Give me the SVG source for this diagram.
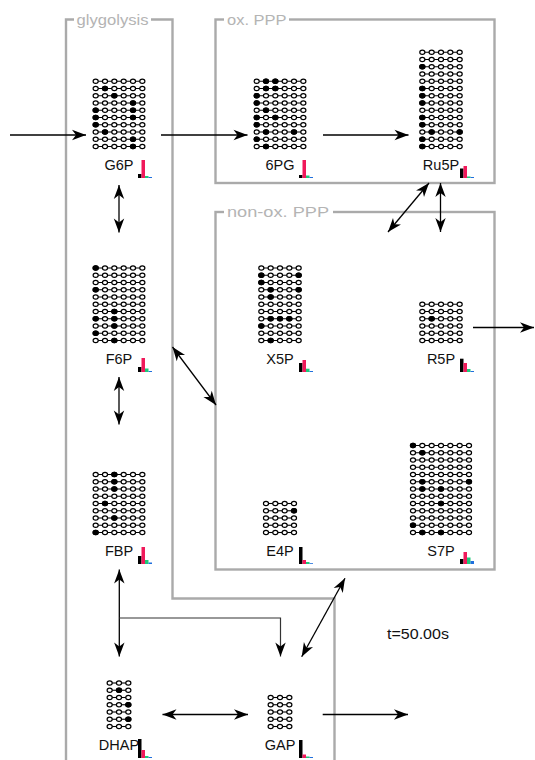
<svg xmlns="http://www.w3.org/2000/svg" xmlns:xlink="http://www.w3.org/1999/xlink" width="535" height="760" viewBox="0 0 535 760">
<style>
.box{fill:none;stroke:#aaaaaa;stroke-width:2.4}
.ttl{font-family:"Liberation Sans",Arial,sans-serif;font-size:15px;fill:#b4b4b4}
.lbl{font-family:"Liberation Sans",Arial,sans-serif;font-size:14.5px;fill:#111;text-anchor:middle}
.oc{fill:#fff;stroke:#000;stroke-width:1.2}
.fc{fill:#000;stroke:#000;stroke-width:1.2}
.rl{stroke:#000;stroke-width:1.1}
.con{fill:none;stroke:#000;stroke-width:1.3}
.two{marker-start:url(#ah);marker-end:url(#ah)}
.one{marker-end:url(#ah)}
.k{fill:#000}.r{fill:#f0195a}.g{fill:#1ec97a}.b{fill:#1f6fdd}
</style>
<defs>
<marker id="ah" viewBox="-15 -6 16 12" refX="0" refY="0" markerWidth="16" markerHeight="12" markerUnits="userSpaceOnUse" orient="auto-start-reverse"><path d="M0,0 L-14,-5.2 L-10,0 L-14,5.2 Z" fill="#000"/></marker>
<ellipse id="o" rx="2.55" ry="2.2" class="oc"/>
<ellipse id="f" rx="2.55" ry="2.2" class="fc"/>
<g id="r3"><line class="rl" x1="0" x2="18.67"/><use href="#o"/><use href="#o" x="9.33"/><use href="#o" x="18.67"/></g>
<g id="r4"><line class="rl" x1="0" x2="28"/><use href="#o"/><use href="#o" x="9.33"/><use href="#o" x="18.67"/><use href="#o" x="28"/></g>
<g id="r5"><line class="rl" x1="0" x2="37.33"/><use href="#o"/><use href="#o" x="9.33"/><use href="#o" x="18.67"/><use href="#o" x="28"/><use href="#o" x="37.33"/></g>
<g id="r6"><line class="rl" x1="0" x2="46.67"/><use href="#o"/><use href="#o" x="9.33"/><use href="#o" x="18.67"/><use href="#o" x="28"/><use href="#o" x="37.33"/><use href="#o" x="46.67"/></g>
<g id="r7"><line class="rl" x1="0" x2="56"/><use href="#o"/><use href="#o" x="9.33"/><use href="#o" x="18.67"/><use href="#o" x="28"/><use href="#o" x="37.33"/><use href="#o" x="46.67"/><use href="#o" x="56"/></g>
</defs>
<rect width="535" height="760" fill="#fff"/>

<g id="compartments">
<path class="box" d="M66,760 V19.5 H172.5 V598.5 H334.5 V760"/>
<rect x="74" y="11" width="77" height="16" fill="#fff"/>
<text class="ttl" x="76.5" y="24.5" textLength="72" lengthAdjust="spacingAndGlyphs">glygolysis</text>
<rect class="box" x="215.5" y="19.5" width="279" height="163.5"/>
<rect x="224" y="11" width="65" height="16" fill="#fff"/>
<text class="ttl" x="227" y="24.5" textLength="59.5" lengthAdjust="spacingAndGlyphs">ox. PPP</text>
<rect class="box" x="215.5" y="212" width="279" height="357.5"/>
<rect x="224" y="204" width="109" height="16" fill="#fff"/>
<text class="ttl" x="227" y="217" textLength="102" lengthAdjust="spacingAndGlyphs">non-ox. PPP</text>
</g>

<g id="connectors">
<path class="con one" d="M10,135 H86"/>
<path class="con one" d="M161,135 H247.5"/>
<path class="con one" d="M323,135 H408.5"/>
<path class="con two" d="M429,183 L388,232"/>
<path class="con two" d="M440.5,183 V232"/>
<path class="con two" d="M119,185 V232.5"/>
<path class="con two" d="M119,377 V424.5"/>
<path class="con two" d="M172.5,347 L216,405"/>
<path class="con one" d="M473,327.5 H534"/>
<path class="con two" d="M119.3,569.5 V656.5"/>
<path class="con one" d="M119.3,618 H280.5 V656.5" style="stroke:#333;stroke-width:1.2"/>
<path class="con two" d="M301.7,656.7 L345,578.3"/>
<path class="con two" d="M162.5,714.5 H248"/>
<path class="con one" d="M322.7,714.5 H408"/>
</g>

<g id="G6P">
<g transform="translate(95.67,81.25)">
<use href="#r6"/><use href="#r6" y="7.25"/><use href="#r6" y="14.5"/><use href="#r6" y="21.75"/><use href="#r6" y="29"/><use href="#r6" y="36.25"/><use href="#r6" y="43.5"/><use href="#r6" y="50.75"/><use href="#r6" y="58"/><use href="#r6" y="65.25"/>
<use href="#f" x="9.33" y="7.25"/><use href="#f" x="18.67" y="14.5"/><use href="#f" x="37.33" y="21.75"/><use href="#f" x="0" y="29"/><use href="#f" x="37.33" y="29"/><use href="#f" x="0" y="36.25"/><use href="#f" x="37.33" y="36.25"/><use href="#f" x="0" y="43.5"/><use href="#f" x="9.33" y="50.75"/><use href="#f" x="37.33" y="58"/><use href="#f" x="37.33" y="65.25"/>
</g>
<text class="lbl" x="119" y="170">G6P</text>
<rect class="k" x="138" y="174" width="3.5" height="4"/><rect class="r" x="141.5" y="160" width="3.5" height="18"/><rect class="g" x="145" y="176" width="3.5" height="2"/><rect class="b" x="148.5" y="177" width="3.5" height="1"/>
</g>

<g id="6PG">
<g transform="translate(256.67,81.25)">
<use href="#r6"/><use href="#r6" y="7.25"/><use href="#r6" y="14.5"/><use href="#r6" y="21.75"/><use href="#r6" y="29"/><use href="#r6" y="36.25"/><use href="#r6" y="43.5"/><use href="#r6" y="50.75"/><use href="#r6" y="58"/><use href="#r6" y="65.25"/>
<use href="#f" x="9.33" y="0"/><use href="#f" x="18.67" y="0"/><use href="#f" x="9.33" y="7.25"/><use href="#f" x="18.67" y="7.25"/><use href="#f" x="0" y="14.5"/><use href="#f" x="0" y="21.75"/><use href="#f" x="9.33" y="29"/><use href="#f" x="0" y="36.25"/><use href="#f" x="18.67" y="36.25"/><use href="#f" x="0" y="43.5"/><use href="#f" x="9.33" y="50.75"/><use href="#f" x="37.33" y="50.75"/><use href="#f" x="0" y="58"/><use href="#f" x="9.33" y="65.25"/>
</g>
<text class="lbl" x="280" y="170">6PG</text>
<rect class="k" x="299" y="175" width="3.5" height="3"/><rect class="r" x="302.5" y="160" width="3.5" height="18"/><rect class="g" x="306" y="175.5" width="3.5" height="2.5"/><rect class="b" x="309.5" y="177" width="3.5" height="1"/>
</g>

<g id="Ru5P">
<g transform="translate(422.33,52.25)">
<use href="#r5"/><use href="#r5" y="7.25"/><use href="#r5" y="14.5"/><use href="#r5" y="21.75"/><use href="#r5" y="29"/><use href="#r5" y="36.25"/><use href="#r5" y="43.5"/><use href="#r5" y="50.75"/><use href="#r5" y="58"/><use href="#r5" y="65.25"/><use href="#r5" y="72.5"/><use href="#r5" y="79.75"/><use href="#r5" y="87"/><use href="#r5" y="94.25"/>
<use href="#f" x="0" y="14.5"/><use href="#f" x="0" y="36.25"/><use href="#f" x="0" y="43.5"/><use href="#f" x="0" y="50.75"/><use href="#f" x="0" y="65.25"/><use href="#f" x="0" y="72.5"/><use href="#f" x="9.33" y="79.75"/><use href="#f" x="37.33" y="79.75"/><use href="#f" x="0" y="87"/><use href="#f" x="0" y="94.25"/>
</g>
<text class="lbl" x="441" y="170">Ru5P</text>
<rect class="k" x="460" y="168.5" width="3.5" height="9.5"/><rect class="r" x="463.5" y="166" width="3.5" height="12"/><rect class="g" x="467" y="176.5" width="3.5" height="1.5"/><rect class="b" x="470.5" y="177" width="3.5" height="1"/>
</g>

<g id="X5P">
<g transform="translate(261.33,268)">
<use href="#r5"/><use href="#r5" y="7.25"/><use href="#r5" y="14.5"/><use href="#r5" y="21.75"/><use href="#r5" y="29"/><use href="#r5" y="36.25"/><use href="#r5" y="43.5"/><use href="#r5" y="50.75"/><use href="#r5" y="58"/><use href="#r5" y="65.25"/><use href="#r5" y="72.5"/>
<use href="#f" x="0" y="7.25"/><use href="#f" x="37.33" y="7.25"/><use href="#f" x="0" y="14.5"/><use href="#f" x="9.33" y="21.75"/><use href="#f" x="37.33" y="21.75"/><use href="#f" x="9.33" y="29"/><use href="#f" x="9.33" y="50.75"/><use href="#f" x="18.67" y="50.75"/><use href="#f" x="28" y="50.75"/><use href="#f" x="0" y="58"/><use href="#f" x="9.33" y="72.5"/>
</g>
<text class="lbl" x="280" y="364">X5P</text>
<rect class="k" x="299" y="363" width="3.5" height="9"/><rect class="r" x="302.5" y="360" width="3.5" height="12"/><rect class="g" x="306" y="368.7" width="3.5" height="3.3"/><rect class="b" x="309.5" y="371" width="3.5" height="1"/>
</g>

<g id="R5P">
<g transform="translate(422.33,304.25)">
<use href="#r5"/><use href="#r5" y="7.25"/><use href="#r5" y="14.5"/><use href="#r5" y="21.75"/><use href="#r5" y="29"/><use href="#r5" y="36.25"/>
<use href="#f" x="9.33" y="14.5"/>
</g>
<text class="lbl" x="441" y="364">R5P</text>
<rect class="k" x="460" y="358.7" width="3.5" height="13.3"/><rect class="r" x="463.5" y="363" width="3.5" height="9"/><rect class="g" x="467" y="369" width="3.5" height="3"/><rect class="b" x="470.5" y="371" width="3.5" height="1"/>
</g>

<g id="F6P">
<g transform="translate(95.67,268)">
<use href="#r6"/><use href="#r6" y="7.25"/><use href="#r6" y="14.5"/><use href="#r6" y="21.75"/><use href="#r6" y="29"/><use href="#r6" y="36.25"/><use href="#r6" y="43.5"/><use href="#r6" y="50.75"/><use href="#r6" y="58"/><use href="#r6" y="65.25"/><use href="#r6" y="72.5"/>
<use href="#f" x="0" y="0"/><use href="#f" x="0" y="21.75"/><use href="#f" x="18.67" y="43.5"/><use href="#f" x="0" y="50.75"/><use href="#f" x="18.67" y="50.75"/><use href="#f" x="18.67" y="58"/><use href="#f" x="0" y="65.25"/><use href="#f" x="18.67" y="72.5"/>
</g>
<text class="lbl" x="119" y="364">F6P</text>
<rect class="k" x="138" y="367" width="3.5" height="5"/><rect class="r" x="141.5" y="358" width="3.5" height="14"/><rect class="g" x="145" y="368.5" width="3.5" height="3.5"/><rect class="b" x="148.5" y="371" width="3.5" height="1"/>
</g>

<g id="E4P">
<g transform="translate(266,503.5)">
<use href="#r4"/><use href="#r4" y="7.25"/><use href="#r4" y="14.5"/><use href="#r4" y="21.75"/><use href="#r4" y="29"/>
<use href="#f" x="28" y="7.25"/>
</g>
<text class="lbl" x="280" y="556">E4P</text>
<rect class="k" x="299" y="547" width="3.5" height="17"/><rect class="r" x="302.5" y="560" width="3.5" height="4"/><rect class="g" x="306" y="562" width="3.5" height="2"/><rect class="b" x="309.5" y="563.2" width="3.5" height="0.8"/>
</g>

<g id="S7P">
<g transform="translate(413,445.5)">
<use href="#r7"/><use href="#r7" y="7.25"/><use href="#r7" y="14.5"/><use href="#r7" y="21.75"/><use href="#r7" y="29"/><use href="#r7" y="36.25"/><use href="#r7" y="43.5"/><use href="#r7" y="50.75"/><use href="#r7" y="58"/><use href="#r7" y="65.25"/><use href="#r7" y="72.5"/><use href="#r7" y="79.75"/><use href="#r7" y="87"/>
<use href="#f" x="0" y="0"/><use href="#f" x="9.33" y="7.25"/><use href="#f" x="9.33" y="36.25"/><use href="#f" x="56" y="36.25"/><use href="#f" x="9.33" y="43.5"/><use href="#f" x="28" y="43.5"/><use href="#f" x="28" y="58"/><use href="#f" x="0" y="79.75"/><use href="#f" x="9.33" y="87"/><use href="#f" x="28" y="87"/>
</g>
<text class="lbl" x="441" y="556">S7P</text>
<rect class="k" x="460" y="559" width="3.5" height="5"/><rect class="r" x="463.5" y="552" width="3.5" height="12"/><rect class="g" x="467" y="557.5" width="3.5" height="6.5"/><rect class="b" x="470.5" y="561" width="3.5" height="3"/>
</g>

<g id="FBP">
<g transform="translate(95.67,474.5)">
<use href="#r6"/><use href="#r6" y="7.25"/><use href="#r6" y="14.5"/><use href="#r6" y="21.75"/><use href="#r6" y="29"/><use href="#r6" y="36.25"/><use href="#r6" y="43.5"/><use href="#r6" y="50.75"/><use href="#r6" y="58"/>
<use href="#f" x="18.67" y="0"/><use href="#f" x="18.67" y="7.25"/><use href="#f" x="18.67" y="14.5"/><use href="#f" x="9.33" y="29"/><use href="#f" x="18.67" y="43.5"/><use href="#f" x="0" y="58"/>
</g>
<text class="lbl" x="119" y="556">FBP</text>
<rect class="k" x="138" y="556" width="3.5" height="8"/><rect class="r" x="141.5" y="547" width="3.5" height="17"/><rect class="g" x="145" y="560" width="3.5" height="4"/><rect class="b" x="148.5" y="562.5" width="3.5" height="1.5"/>
</g>

<g id="DHAP">
<g transform="translate(109.67,683)">
<use href="#r3"/><use href="#r3" y="7.25"/><use href="#r3" y="14.5"/><use href="#r3" y="21.75"/><use href="#r3" y="29"/><use href="#r3" y="36.25"/><use href="#r3" y="43.5"/>
<use href="#f" x="9.33" y="7.25"/><use href="#f" x="18.67" y="21.75"/><use href="#f" x="18.67" y="36.25"/>
</g>
<text class="lbl" x="119" y="750">DHAP</text>
<rect class="k" x="138" y="739" width="3.5" height="19"/><rect class="r" x="141.5" y="750" width="3.5" height="8"/><rect class="g" x="145" y="756" width="3.5" height="2"/><rect class="b" x="148.5" y="757" width="3.5" height="1"/>
</g>

<g id="GAP">
<g transform="translate(270.67,697.5)">
<use href="#r3"/><use href="#r3" y="7.25"/><use href="#r3" y="14.5"/><use href="#r3" y="21.75"/><use href="#r3" y="29"/>
</g>
<text class="lbl" x="280" y="750">GAP</text>
<rect class="k" x="299" y="740" width="3.5" height="18"/><rect class="r" x="302.5" y="754.5" width="3.5" height="3.5"/><rect class="g" x="306" y="756.5" width="3.5" height="1.5"/><rect class="b" x="309.5" y="757" width="3.5" height="1"/>
</g>

<g id="time">
<text class="lbl" x="387" y="639" style="text-anchor:start" textLength="62" lengthAdjust="spacingAndGlyphs">t=50.00s</text>
</g>
</svg>
